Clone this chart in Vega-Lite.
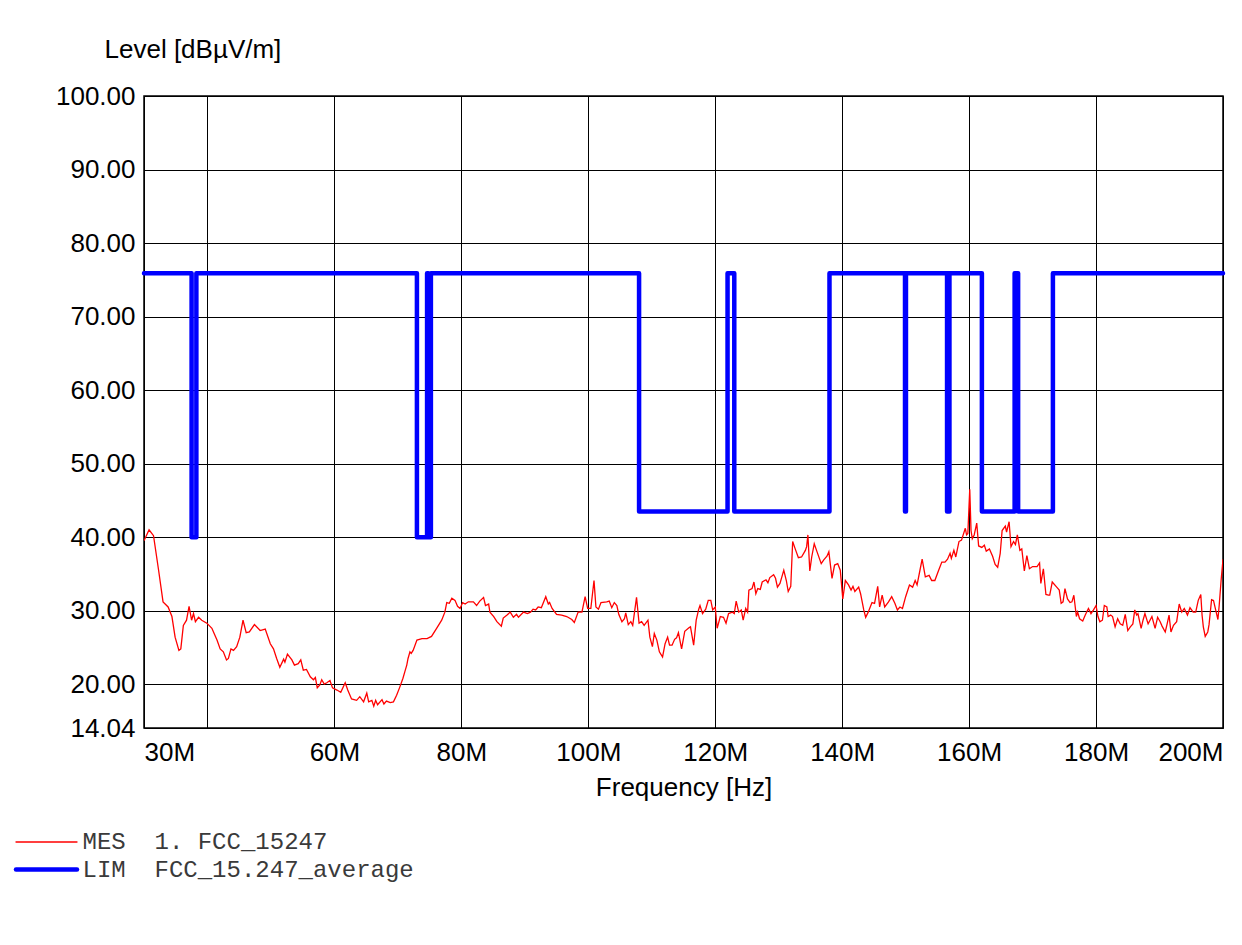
{
  "$schema": "https://vega.github.io/schema/vega-lite/v6.json",
  "width": 1079,
  "height": 632,
  "autosize": {"type": "none"},
  "padding": {"left": 144, "top": 96, "right": 19, "bottom": 217},
  "background": "white",
  "datasets": {
    "mes": [
      {"freq_MHz": 30.0, "level": 39.5}, {"freq_MHz": 30.8, "level": 41.0}, {"freq_MHz": 31.5, "level": 40.2}, {"freq_MHz": 32.3, "level": 35.5},
      {"freq_MHz": 33.0, "level": 31.2}, {"freq_MHz": 33.8, "level": 30.5}, {"freq_MHz": 34.4, "level": 29.2}, {"freq_MHz": 34.9, "level": 26.4},
      {"freq_MHz": 35.5, "level": 24.6}, {"freq_MHz": 35.8, "level": 24.8}, {"freq_MHz": 36.2, "level": 28.0}, {"freq_MHz": 36.7, "level": 28.7},
      {"freq_MHz": 37.1, "level": 30.6}, {"freq_MHz": 37.5, "level": 28.7}, {"freq_MHz": 37.8, "level": 29.6}, {"freq_MHz": 38.1, "level": 28.5},
      {"freq_MHz": 38.6, "level": 29.1}, {"freq_MHz": 39.1, "level": 28.7}, {"freq_MHz": 39.9, "level": 28.3}, {"freq_MHz": 40.7, "level": 27.6},
      {"freq_MHz": 41.0, "level": 27.0}, {"freq_MHz": 41.5, "level": 26.0}, {"freq_MHz": 42.0, "level": 24.8}, {"freq_MHz": 42.5, "level": 24.4},
      {"freq_MHz": 43.0, "level": 23.3}, {"freq_MHz": 43.3, "level": 23.5}, {"freq_MHz": 43.7, "level": 24.8}, {"freq_MHz": 44.1, "level": 24.6},
      {"freq_MHz": 44.6, "level": 25.1}, {"freq_MHz": 45.1, "level": 26.4}, {"freq_MHz": 45.6, "level": 28.7}, {"freq_MHz": 46.1, "level": 27.0},
      {"freq_MHz": 46.6, "level": 27.1}, {"freq_MHz": 47.4, "level": 28.1}, {"freq_MHz": 48.3, "level": 27.3}, {"freq_MHz": 49.1, "level": 27.5},
      {"freq_MHz": 49.9, "level": 25.5}, {"freq_MHz": 50.4, "level": 24.8}, {"freq_MHz": 50.9, "level": 23.5}, {"freq_MHz": 51.4, "level": 22.3},
      {"freq_MHz": 52.0, "level": 23.4}, {"freq_MHz": 52.2, "level": 23.0}, {"freq_MHz": 52.6, "level": 24.1}, {"freq_MHz": 53.3, "level": 23.3},
      {"freq_MHz": 53.7, "level": 22.6}, {"freq_MHz": 54.3, "level": 22.8}, {"freq_MHz": 54.7, "level": 23.3}, {"freq_MHz": 55.1, "level": 21.9},
      {"freq_MHz": 55.6, "level": 22.0}, {"freq_MHz": 56.2, "level": 21.0}, {"freq_MHz": 56.7, "level": 20.6}, {"freq_MHz": 57.0, "level": 20.9},
      {"freq_MHz": 57.3, "level": 19.5}, {"freq_MHz": 57.7, "level": 19.9}, {"freq_MHz": 58.0, "level": 20.6}, {"freq_MHz": 58.4, "level": 20.0},
      {"freq_MHz": 58.8, "level": 20.2}, {"freq_MHz": 59.3, "level": 20.5}, {"freq_MHz": 59.7, "level": 19.5}, {"freq_MHz": 60.4, "level": 19.2},
      {"freq_MHz": 61.0, "level": 18.9}, {"freq_MHz": 61.7, "level": 20.2}, {"freq_MHz": 62.1, "level": 19.2}, {"freq_MHz": 62.7, "level": 18.0},
      {"freq_MHz": 63.5, "level": 17.8}, {"freq_MHz": 64.0, "level": 18.3}, {"freq_MHz": 64.6, "level": 17.6}, {"freq_MHz": 65.1, "level": 18.8},
      {"freq_MHz": 65.4, "level": 17.6}, {"freq_MHz": 65.9, "level": 17.8}, {"freq_MHz": 66.2, "level": 17.0}, {"freq_MHz": 66.5, "level": 17.8},
      {"freq_MHz": 66.8, "level": 17.2}, {"freq_MHz": 67.5, "level": 17.9}, {"freq_MHz": 67.8, "level": 17.3}, {"freq_MHz": 68.2, "level": 17.7},
      {"freq_MHz": 68.8, "level": 17.5}, {"freq_MHz": 69.3, "level": 17.6}, {"freq_MHz": 69.8, "level": 18.5}, {"freq_MHz": 70.3, "level": 19.6},
      {"freq_MHz": 70.8, "level": 20.8}, {"freq_MHz": 71.1, "level": 21.7}, {"freq_MHz": 71.4, "level": 22.6}, {"freq_MHz": 71.6, "level": 23.5},
      {"freq_MHz": 71.9, "level": 24.4}, {"freq_MHz": 72.1, "level": 24.2}, {"freq_MHz": 72.4, "level": 24.6}, {"freq_MHz": 73.0, "level": 26.0},
      {"freq_MHz": 73.8, "level": 26.2}, {"freq_MHz": 74.6, "level": 26.2}, {"freq_MHz": 75.3, "level": 26.5}, {"freq_MHz": 76.1, "level": 27.6},
      {"freq_MHz": 76.9, "level": 28.7}, {"freq_MHz": 77.4, "level": 29.8}, {"freq_MHz": 77.7, "level": 31.1}, {"freq_MHz": 78.1, "level": 31.0},
      {"freq_MHz": 78.5, "level": 31.7}, {"freq_MHz": 79.0, "level": 31.4}, {"freq_MHz": 79.4, "level": 30.6}, {"freq_MHz": 79.8, "level": 30.3},
      {"freq_MHz": 80.2, "level": 31.1}, {"freq_MHz": 80.6, "level": 30.9}, {"freq_MHz": 81.1, "level": 31.2}, {"freq_MHz": 81.9, "level": 31.2},
      {"freq_MHz": 82.4, "level": 30.7}, {"freq_MHz": 82.9, "level": 31.3}, {"freq_MHz": 83.5, "level": 31.8}, {"freq_MHz": 83.8, "level": 30.7},
      {"freq_MHz": 84.3, "level": 30.9}, {"freq_MHz": 84.5, "level": 29.8}, {"freq_MHz": 85.1, "level": 29.2}, {"freq_MHz": 85.6, "level": 28.5},
      {"freq_MHz": 86.3, "level": 27.9}, {"freq_MHz": 86.6, "level": 29.0}, {"freq_MHz": 87.2, "level": 29.4}, {"freq_MHz": 87.7, "level": 29.8},
      {"freq_MHz": 88.2, "level": 29.1}, {"freq_MHz": 88.7, "level": 29.5}, {"freq_MHz": 89.0, "level": 29.1}, {"freq_MHz": 89.8, "level": 29.8},
      {"freq_MHz": 90.4, "level": 29.6}, {"freq_MHz": 90.9, "level": 29.8}, {"freq_MHz": 91.3, "level": 30.2}, {"freq_MHz": 91.7, "level": 30.1},
      {"freq_MHz": 92.1, "level": 30.5}, {"freq_MHz": 92.6, "level": 30.4}, {"freq_MHz": 93.3, "level": 31.9}, {"freq_MHz": 93.7, "level": 30.9},
      {"freq_MHz": 93.9, "level": 31.1}, {"freq_MHz": 94.3, "level": 30.3}, {"freq_MHz": 95.0, "level": 29.5}, {"freq_MHz": 95.8, "level": 29.4},
      {"freq_MHz": 96.6, "level": 29.2}, {"freq_MHz": 97.4, "level": 28.8}, {"freq_MHz": 97.8, "level": 28.4}, {"freq_MHz": 98.4, "level": 29.8},
      {"freq_MHz": 99.0, "level": 29.8}, {"freq_MHz": 99.5, "level": 31.9}, {"freq_MHz": 99.9, "level": 30.3}, {"freq_MHz": 100.4, "level": 30.3},
      {"freq_MHz": 100.9, "level": 34.1}, {"freq_MHz": 101.2, "level": 30.5}, {"freq_MHz": 101.6, "level": 30.2}, {"freq_MHz": 102.0, "level": 31.1},
      {"freq_MHz": 102.9, "level": 31.2}, {"freq_MHz": 103.3, "level": 31.3}, {"freq_MHz": 103.7, "level": 30.4}, {"freq_MHz": 104.1, "level": 31.1},
      {"freq_MHz": 104.5, "level": 30.7}, {"freq_MHz": 104.8, "level": 29.5}, {"freq_MHz": 105.3, "level": 28.5}, {"freq_MHz": 105.7, "level": 28.9},
      {"freq_MHz": 105.9, "level": 29.7}, {"freq_MHz": 106.3, "level": 28.1}, {"freq_MHz": 106.7, "level": 28.5}, {"freq_MHz": 107.0, "level": 28.0},
      {"freq_MHz": 107.6, "level": 31.8}, {"freq_MHz": 108.0, "level": 28.3}, {"freq_MHz": 108.4, "level": 28.5}, {"freq_MHz": 108.8, "level": 28.0},
      {"freq_MHz": 109.4, "level": 28.7}, {"freq_MHz": 109.7, "level": 26.4}, {"freq_MHz": 110.1, "level": 25.1}, {"freq_MHz": 110.4, "level": 26.9},
      {"freq_MHz": 110.8, "level": 26.0}, {"freq_MHz": 111.2, "level": 24.4}, {"freq_MHz": 111.7, "level": 23.7}, {"freq_MHz": 112.1, "level": 25.5},
      {"freq_MHz": 112.5, "level": 26.4}, {"freq_MHz": 112.8, "level": 25.3}, {"freq_MHz": 113.2, "level": 25.3}, {"freq_MHz": 113.6, "level": 26.1},
      {"freq_MHz": 113.9, "level": 26.3}, {"freq_MHz": 114.2, "level": 27.0}, {"freq_MHz": 114.7, "level": 24.8}, {"freq_MHz": 115.2, "level": 27.2},
      {"freq_MHz": 115.9, "level": 27.7}, {"freq_MHz": 116.1, "level": 27.8}, {"freq_MHz": 116.6, "level": 25.3}, {"freq_MHz": 117.0, "level": 28.7},
      {"freq_MHz": 117.4, "level": 30.2}, {"freq_MHz": 117.6, "level": 30.7}, {"freq_MHz": 118.0, "level": 29.6}, {"freq_MHz": 118.5, "level": 30.2},
      {"freq_MHz": 118.9, "level": 31.4}, {"freq_MHz": 119.3, "level": 31.4}, {"freq_MHz": 119.6, "level": 30.1}, {"freq_MHz": 120.0, "level": 30.5},
      {"freq_MHz": 120.3, "level": 27.6}, {"freq_MHz": 120.8, "level": 29.2}, {"freq_MHz": 121.3, "level": 29.1}, {"freq_MHz": 121.7, "level": 28.3},
      {"freq_MHz": 122.1, "level": 29.6}, {"freq_MHz": 122.7, "level": 29.8}, {"freq_MHz": 123.0, "level": 29.6}, {"freq_MHz": 123.3, "level": 31.3},
      {"freq_MHz": 123.7, "level": 29.8}, {"freq_MHz": 124.1, "level": 30.1}, {"freq_MHz": 124.4, "level": 28.7}, {"freq_MHz": 124.8, "level": 30.3},
      {"freq_MHz": 125.1, "level": 29.8}, {"freq_MHz": 125.3, "level": 32.8}, {"freq_MHz": 125.8, "level": 33.0}, {"freq_MHz": 126.1, "level": 33.9},
      {"freq_MHz": 126.4, "level": 32.3}, {"freq_MHz": 126.7, "level": 33.0}, {"freq_MHz": 127.1, "level": 32.9}, {"freq_MHz": 127.4, "level": 33.9},
      {"freq_MHz": 128.0, "level": 34.2}, {"freq_MHz": 128.3, "level": 33.8}, {"freq_MHz": 128.6, "level": 34.5}, {"freq_MHz": 129.2, "level": 34.9},
      {"freq_MHz": 129.5, "level": 34.4}, {"freq_MHz": 129.8, "level": 33.2}, {"freq_MHz": 130.2, "level": 33.7}, {"freq_MHz": 130.6, "level": 34.9},
      {"freq_MHz": 130.8, "level": 35.5}, {"freq_MHz": 131.2, "level": 34.1}, {"freq_MHz": 131.5, "level": 32.6}, {"freq_MHz": 131.9, "level": 33.3},
      {"freq_MHz": 132.2, "level": 39.4}, {"freq_MHz": 132.6, "level": 38.4}, {"freq_MHz": 133.1, "level": 37.2}, {"freq_MHz": 133.6, "level": 37.3},
      {"freq_MHz": 134.2, "level": 38.2}, {"freq_MHz": 134.4, "level": 38.7}, {"freq_MHz": 134.6, "level": 40.3}, {"freq_MHz": 134.9, "level": 35.4},
      {"freq_MHz": 135.2, "level": 37.3}, {"freq_MHz": 135.6, "level": 39.1}, {"freq_MHz": 136.0, "level": 38.1}, {"freq_MHz": 136.7, "level": 36.4},
      {"freq_MHz": 137.1, "level": 36.9}, {"freq_MHz": 137.6, "level": 37.4}, {"freq_MHz": 137.9, "level": 38.0}, {"freq_MHz": 138.4, "level": 34.4},
      {"freq_MHz": 138.8, "level": 36.2}, {"freq_MHz": 139.3, "level": 36.4}, {"freq_MHz": 139.7, "level": 35.5}, {"freq_MHz": 140.1, "level": 31.6},
      {"freq_MHz": 140.5, "level": 34.1}, {"freq_MHz": 141.0, "level": 33.5}, {"freq_MHz": 141.4, "level": 32.8}, {"freq_MHz": 141.7, "level": 33.3},
      {"freq_MHz": 142.0, "level": 32.6}, {"freq_MHz": 142.6, "level": 33.2}, {"freq_MHz": 142.9, "level": 32.3}, {"freq_MHz": 143.4, "level": 30.1},
      {"freq_MHz": 143.7, "level": 29.1}, {"freq_MHz": 144.1, "level": 29.8}, {"freq_MHz": 144.7, "level": 31.1}, {"freq_MHz": 145.1, "level": 31.0},
      {"freq_MHz": 145.6, "level": 33.3}, {"freq_MHz": 145.9, "level": 30.5}, {"freq_MHz": 146.3, "level": 32.1}, {"freq_MHz": 146.7, "level": 30.5},
      {"freq_MHz": 147.3, "level": 31.2}, {"freq_MHz": 147.8, "level": 31.9}, {"freq_MHz": 148.3, "level": 31.0}, {"freq_MHz": 148.7, "level": 30.1},
      {"freq_MHz": 149.1, "level": 30.5}, {"freq_MHz": 149.5, "level": 30.3}, {"freq_MHz": 150.0, "level": 31.9}, {"freq_MHz": 150.6, "level": 33.5},
      {"freq_MHz": 151.1, "level": 33.2}, {"freq_MHz": 151.5, "level": 34.1}, {"freq_MHz": 151.8, "level": 33.5}, {"freq_MHz": 152.3, "level": 35.7},
      {"freq_MHz": 152.6, "level": 37.0}, {"freq_MHz": 153.1, "level": 34.6}, {"freq_MHz": 153.7, "level": 34.8}, {"freq_MHz": 154.1, "level": 34.1},
      {"freq_MHz": 154.6, "level": 34.1}, {"freq_MHz": 155.2, "level": 35.5}, {"freq_MHz": 155.7, "level": 36.6}, {"freq_MHz": 156.2, "level": 36.6},
      {"freq_MHz": 156.6, "level": 37.0}, {"freq_MHz": 157.0, "level": 37.8}, {"freq_MHz": 157.2, "level": 37.1}, {"freq_MHz": 157.6, "level": 38.2},
      {"freq_MHz": 157.9, "level": 37.3}, {"freq_MHz": 158.4, "level": 39.4}, {"freq_MHz": 158.8, "level": 39.6}, {"freq_MHz": 159.4, "level": 41.2},
      {"freq_MHz": 159.6, "level": 40.3}, {"freq_MHz": 159.8, "level": 40.5}, {"freq_MHz": 160.1, "level": 46.5}, {"freq_MHz": 160.3, "level": 40.9},
      {"freq_MHz": 160.5, "level": 39.8}, {"freq_MHz": 160.8, "level": 40.3}, {"freq_MHz": 161.2, "level": 41.9}, {"freq_MHz": 161.5, "level": 38.8},
      {"freq_MHz": 162.0, "level": 38.6}, {"freq_MHz": 162.4, "level": 38.9}, {"freq_MHz": 162.7, "level": 38.1}, {"freq_MHz": 163.2, "level": 38.4},
      {"freq_MHz": 163.7, "level": 37.4}, {"freq_MHz": 164.1, "level": 36.3}, {"freq_MHz": 164.5, "level": 35.9}, {"freq_MHz": 164.9, "level": 37.8},
      {"freq_MHz": 165.2, "level": 40.9}, {"freq_MHz": 165.7, "level": 41.5}, {"freq_MHz": 165.9, "level": 40.7}, {"freq_MHz": 166.3, "level": 42.1},
      {"freq_MHz": 166.6, "level": 38.7}, {"freq_MHz": 167.0, "level": 39.4}, {"freq_MHz": 167.3, "level": 39.0}, {"freq_MHz": 167.6, "level": 40.3},
      {"freq_MHz": 168.0, "level": 38.2}, {"freq_MHz": 168.3, "level": 38.4}, {"freq_MHz": 168.7, "level": 35.4}, {"freq_MHz": 169.1, "level": 37.5},
      {"freq_MHz": 169.5, "level": 35.7}, {"freq_MHz": 170.0, "level": 36.0}, {"freq_MHz": 170.7, "level": 36.0}, {"freq_MHz": 171.1, "level": 36.5},
      {"freq_MHz": 171.3, "level": 33.7}, {"freq_MHz": 171.7, "level": 35.7}, {"freq_MHz": 172.1, "level": 32.2}, {"freq_MHz": 172.5, "level": 32.1},
      {"freq_MHz": 172.7, "level": 32.1}, {"freq_MHz": 173.1, "level": 33.9}, {"freq_MHz": 173.8, "level": 33.2}, {"freq_MHz": 174.2, "level": 32.8},
      {"freq_MHz": 174.5, "level": 31.0}, {"freq_MHz": 174.8, "level": 31.2}, {"freq_MHz": 175.1, "level": 33.0}, {"freq_MHz": 175.5, "level": 31.6},
      {"freq_MHz": 175.9, "level": 31.1}, {"freq_MHz": 176.2, "level": 31.2}, {"freq_MHz": 176.5, "level": 32.1}, {"freq_MHz": 176.9, "level": 29.2},
      {"freq_MHz": 177.1, "level": 29.8}, {"freq_MHz": 177.4, "level": 28.9}, {"freq_MHz": 177.9, "level": 28.6}, {"freq_MHz": 178.3, "level": 29.4},
      {"freq_MHz": 178.8, "level": 30.3}, {"freq_MHz": 179.2, "level": 29.6}, {"freq_MHz": 179.6, "level": 30.1}, {"freq_MHz": 180.0, "level": 30.7},
      {"freq_MHz": 180.3, "level": 29.2}, {"freq_MHz": 180.6, "level": 28.5}, {"freq_MHz": 181.0, "level": 28.7}, {"freq_MHz": 181.3, "level": 30.7},
      {"freq_MHz": 181.7, "level": 30.5}, {"freq_MHz": 181.9, "level": 29.2}, {"freq_MHz": 182.3, "level": 29.4}, {"freq_MHz": 182.6, "level": 29.2},
      {"freq_MHz": 183.0, "level": 27.8}, {"freq_MHz": 183.4, "level": 28.9}, {"freq_MHz": 183.8, "level": 28.2}, {"freq_MHz": 184.2, "level": 28.0},
      {"freq_MHz": 184.6, "level": 29.5}, {"freq_MHz": 185.0, "level": 27.3}, {"freq_MHz": 185.4, "level": 27.8}, {"freq_MHz": 185.8, "level": 28.2},
      {"freq_MHz": 186.1, "level": 30.1}, {"freq_MHz": 186.4, "level": 29.4}, {"freq_MHz": 186.6, "level": 29.6}, {"freq_MHz": 187.1, "level": 27.6},
      {"freq_MHz": 187.4, "level": 28.7}, {"freq_MHz": 187.7, "level": 29.6}, {"freq_MHz": 188.2, "level": 28.2}, {"freq_MHz": 188.5, "level": 28.7},
      {"freq_MHz": 188.8, "level": 29.2}, {"freq_MHz": 189.3, "level": 27.6}, {"freq_MHz": 189.7, "level": 29.1}, {"freq_MHz": 190.1, "level": 28.5},
      {"freq_MHz": 190.4, "level": 27.9}, {"freq_MHz": 190.9, "level": 27.1}, {"freq_MHz": 191.2, "level": 28.2}, {"freq_MHz": 191.5, "level": 29.4},
      {"freq_MHz": 191.8, "level": 27.1}, {"freq_MHz": 192.2, "level": 28.0}, {"freq_MHz": 192.7, "level": 28.5}, {"freq_MHz": 193.1, "level": 30.9},
      {"freq_MHz": 193.5, "level": 29.8}, {"freq_MHz": 193.9, "level": 30.3}, {"freq_MHz": 194.4, "level": 29.4}, {"freq_MHz": 194.8, "level": 30.4},
      {"freq_MHz": 195.3, "level": 29.8}, {"freq_MHz": 195.7, "level": 29.8}, {"freq_MHz": 196.1, "level": 31.4}, {"freq_MHz": 196.5, "level": 32.2},
      {"freq_MHz": 196.7, "level": 29.4}, {"freq_MHz": 196.9, "level": 27.8}, {"freq_MHz": 197.2, "level": 26.5}, {"freq_MHz": 197.6, "level": 27.1},
      {"freq_MHz": 197.8, "level": 28.1}, {"freq_MHz": 198.2, "level": 31.5}, {"freq_MHz": 198.5, "level": 31.4}, {"freq_MHz": 198.9, "level": 29.9},
      {"freq_MHz": 199.2, "level": 28.8}, {"freq_MHz": 199.4, "level": 30.7}, {"freq_MHz": 199.7, "level": 34.1}, {"freq_MHz": 200.0, "level": 37.0}
    ],
    "lim": [
      {"freq_MHz": 30, "level": 75.9}, {"freq_MHz": 37.5, "level": 40}, {"freq_MHz": 38.25, "level": 75.9},
      {"freq_MHz": 73, "level": 40}, {"freq_MHz": 74.6, "level": 75.9}, {"freq_MHz": 74.8, "level": 40},
      {"freq_MHz": 75.2, "level": 75.9}, {"freq_MHz": 108, "level": 43.5}, {"freq_MHz": 121.94, "level": 75.9},
      {"freq_MHz": 123, "level": 43.5}, {"freq_MHz": 138, "level": 75.9}, {"freq_MHz": 149.9, "level": 43.5},
      {"freq_MHz": 150.05, "level": 75.9}, {"freq_MHz": 156.52475, "level": 43.5}, {"freq_MHz": 156.52525, "level": 75.9},
      {"freq_MHz": 156.7, "level": 43.5}, {"freq_MHz": 156.9, "level": 75.9}, {"freq_MHz": 162.0125, "level": 43.5},
      {"freq_MHz": 167.17, "level": 75.9}, {"freq_MHz": 167.72, "level": 43.5}, {"freq_MHz": 173.2, "level": 75.9},
      {"freq_MHz": 200, "level": 75.9}
    ]
  },
  "layer": [
    {
      "data": {"name": "mes"},
      "mark": {"type": "line", "strokeWidth": 1.3, "clip": true},
      "encoding": {
        "x": {
          "field": "freq_MHz", "type": "quantitative",
          "scale": {"domain": [30, 200], "nice": false, "zero": false},
          "axis": {
            "values": [30, 40, 60, 80, 100, 120, 140, 160, 180, 200],
            "labelExpr": "datum.value == 40 ? '' : datum.value + 'M'",
            "labelFlush": true,
            "labelOverlap": false,
            "labelPadding": 11,
            "title": "Frequency [Hz]",
            "titleBaseline": "alphabetic",
            "titleY": 67
          }
        },
        "y": {
          "field": "level", "type": "quantitative",
          "scale": {"domain": [14.04, 100], "nice": false, "zero": false},
          "axis": {
            "values": [14.04, 20, 30, 40, 50, 60, 70, 80, 90, 100],
            "format": ".2f",
            "labelPadding": 9,
            "title": "Level [dBµV/m]",
            "titleAngle": 0,
            "titleAlign": "left",
            "titleBaseline": "alphabetic",
            "titleX": -40,
            "titleY": -39
          }
        },
        "color": {
          "datum": "MES", "type": "nominal",
          "scale": {"domain": ["MES", "LIM"], "range": ["#ff0000", "#0000ff"]},
          "legend": {
            "orient": "none",
            "legendX": -135,
            "legendY": 734,
            "title": null,
            "padding": 0,
            "symbolType": "M-1,0H11.2",
            "symbolSize": 100,
            "labelOffset": 49.5,
            "labelLimit": 0,
            "rowPadding": 3.5,
            "labelFont": "Liberation Mono",
            "labelFontSize": 24,
            "labelColor": "#3a3a3a",
            "labelExpr": "datum.value == 'MES' ? 'MES\u00a0\u00a01.\u00a0FCC_15247' : 'LIM\u00a0\u00a0FCC_15.247_average'",
            "encode": {
              "symbols": {
                "update": {
                  "strokeWidth": {"signal": "datum.value == 'LIM' ? 4.5 : 1.3"},
                  "strokeCap": {"value": "round"}
                }
              }
            }
          }
        }
      }
    },
    {
      "data": {"name": "lim"},
      "mark": {"type": "line", "interpolate": "step-after", "strokeWidth": 4.5, "strokeJoin": "round", "strokeCap": "round"},
      "encoding": {
        "x": {"field": "freq_MHz", "type": "quantitative"},
        "y": {"field": "level", "type": "quantitative"},
        "color": {"datum": "LIM", "type": "nominal"}
      }
    }
  ],
  "config": {
    "font": "Liberation Sans",
    "view": {"stroke": "black", "strokeWidth": 1.5},
    "axis": {
      "labelFont": "Liberation Sans",
      "labelFontSize": 26,
      "labelColor": "black",
      "titleFont": "Liberation Sans",
      "titleFontSize": 26,
      "titleFontWeight": "normal",
      "titleColor": "black",
      "ticks": false,
      "domain": false,
      "grid": true,
      "gridColor": "black",
      "gridOpacity": 1,
      "gridWidth": 1
    }
  }
}
